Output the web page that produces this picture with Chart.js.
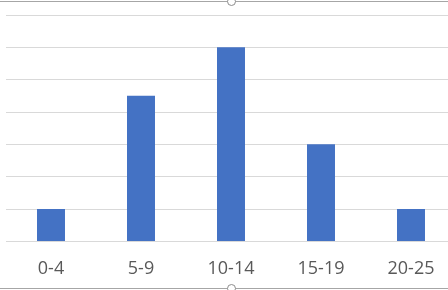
<!DOCTYPE html>
<html>
<head>
<meta charset="utf-8">
<script src="https://cdn.jsdelivr.net/npm/chart.js@4.4.1/dist/chart.umd.min.js"></script>
<style>
  html, body { margin: 0; padding: 0; background: #fff; overflow: hidden; }
  #wrap { width: 456px; height: 290px; position: relative; }
</style>
</head>
<body>
<div id="wrap"><canvas id="myChart"></canvas></div>
<script>
// age groups and how many fall in each
var groups = ["0-4", "5-9", "10-14", "15-19", "20-25"];
var counts = [1, 4.5, 6, 3, 1];
var yMin = 0;
var yMax = 7;

// draws the grey chart frame with the selection handles (top and bottom)
var framePlugin = {
  id: 'frame',
  afterDraw: function(chart) {
    var c = chart.ctx;
    var w = chart.width;
    c.save();
    c.strokeStyle = '#a6a6a6';
    c.lineWidth = 1;
    c.beginPath();
    c.moveTo(0, 1.5); c.lineTo(w, 1.5);
    c.moveTo(0, 288.5); c.lineTo(w, 288.5);
    c.stroke();
    c.fillStyle = '#fff';
    c.strokeStyle = '#8c8c8c';
    [[231.5, 1.5], [231.5, 288.5]].forEach(function(p) {
      c.beginPath();
      c.arc(p[0], p[1], 4, 0, Math.PI * 2);
      c.fill();
      c.stroke();
    });
    c.restore();
  }
};

var ctx = document.getElementById('myChart');

var myChart = new Chart(ctx, {
  type: 'bar',
  data: {
    labels: groups,
    datasets: [{
      data: counts,
      backgroundColor: '#4472c4',
      borderWidth: 0,
      categoryPercentage: 1,
      barPercentage: 0.311
    }]
  },
  options: {
    responsive: true,
    maintainAspectRatio: false,
    animation: false,
    layout: { padding: { left: 6, right: 0, top: 15, bottom: -7 } },
    plugins: {
      legend: { display: false },
      tooltip: { enabled: false }
    },
    scales: {
      x: {
        grid: { display: false, drawTicks: false },
        border: { display: false },
        ticks: {
          padding: 17,
          color: '#595959',
          font: { family: 'Open Sans', size: 18 }
        }
      },
      y: {
        min: yMin,
        max: yMax,
        ticks: { display: false, stepSize: 1 },
        grid: { color: '#d9d9d9', drawTicks: false },
        border: { display: false }
      }
    }
  },
  plugins: [framePlugin]
});
</script>
</body>
</html>
